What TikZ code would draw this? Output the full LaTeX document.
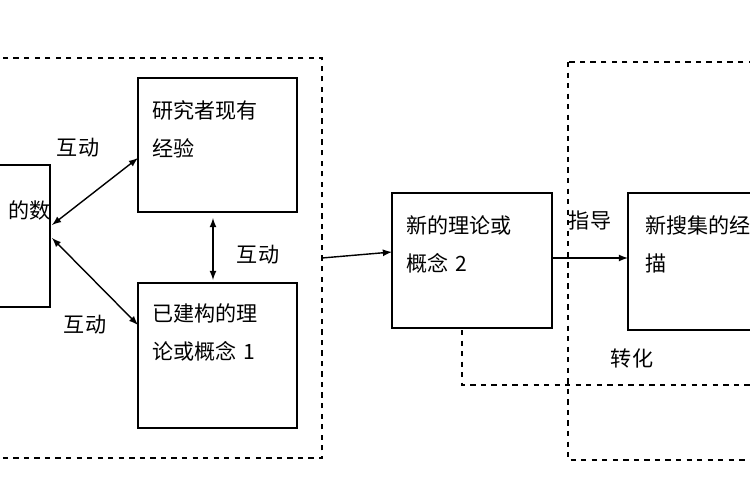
\documentclass[tikz,border=0pt]{standalone}
\usepackage{fontspec}
\setmainfont{Noto Sans CJK SC}
\usetikzlibrary{positioning}
\begin{document}
\begin{tikzpicture}[
        x=0.02cm, y=-0.02cm,
        box/.style={align=left, anchor=north west, inner sep=0pt, font=\fontsize{12}{22}\selectfont},
        frame/.style={draw, thick, dashed},
        link/.style={-latex, thick},
        both/.style={latex-latex, thick},
        lbl/.style={font=\fontsize{12}{14}\selectfont}
    ]
      \useasboundingbox (0,0) rectangle (750,500);
      \clip (0,0) rectangle (750,500);
      % Rahmen
      \draw[frame] (-40,58) rectangle (322,458);
      \draw[frame] (568,62) rectangle (790,460);
      % Kästen
      \draw[thick] (-80,165) rectangle (50,307);
      \node[lbl, anchor=west] (data) at (2,210) {的数};
      \coordinate (dataA) at (52,225);
      \coordinate (dataB) at (52,238);
      \draw[thick] (138,78) rectangle (297,212);
      \node[box, text width=130] (exp) at (152,100) {研究者现有\\经验};
      \draw[thick] (138,283) rectangle (297,428);
      \node[box, text width=130] (theo) at (152,303) {已建构的理\\论或概念 1};
      \draw[thick] (392,193) rectangle (552,328);
      \node[box, text width=130] (new) at (406,215) {新的理论或\\概念 2};
      \draw[thick] (628,193) rectangle (780,330);
      \node[box, text width=130] (coll) at (645,215) {新搜集的经\\描};
      % Verbindungen
      \draw[both] (dataA) -- (138,158);
      \node[lbl] (i1) at (78,148) {互动};
      \draw[both] (dataB) -- (138,325);
      \node[lbl] (i2) at (85,325) {互动};
      \draw[both] (213,218) -- (213,280);
      \node[lbl] (i3) at (258,255) {互动};
      \draw[link] (322,258) -- (392,252);
      \draw[link] (552,258) -- (628,258);
      \node[lbl] (guide) at (590,220) {指导};
      \draw[thick, dashed] (462,330) -- (462,385) -- (760,385);
      \node[lbl] (conv) at (632,358) {转化};
    \end{tikzpicture}
\end{document}
